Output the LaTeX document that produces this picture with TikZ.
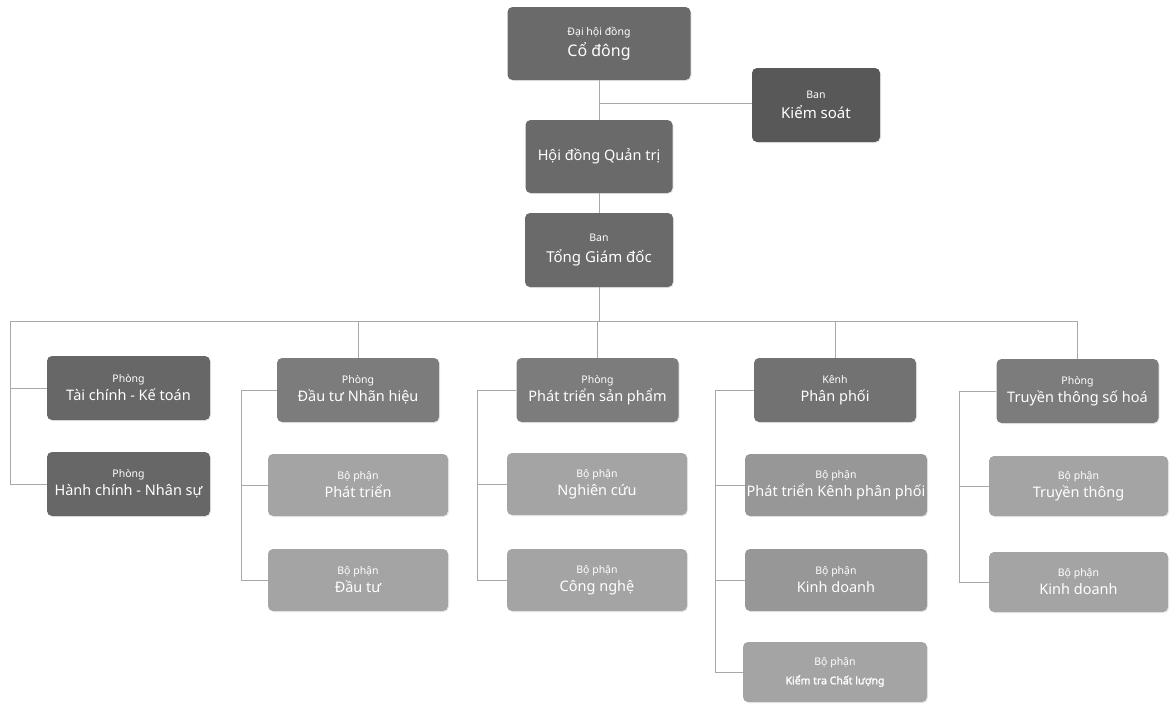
\documentclass[tikz,border=0pt]{standalone}
\usepackage{fontspec}
\setmainfont{Noto Sans}
\newfontfamily\boldf{Noto Sans}[FakeBold=1.6]
\usetikzlibrary{shadows}
\definecolor{topgray}{HTML}{6A6A6A}
\definecolor{ksgray}{HTML}{585858}
\definecolor{darkgray}{HTML}{676767}
\definecolor{midgray}{HTML}{7C7C7C}
\definecolor{subgray}{HTML}{A4A4A4}
\definecolor{linegray}{HTML}{A8A8A8}
\newcommand\smalltxt{\fontsize{10.5}{12}\selectfont}
\newcommand\bigtxt{\fontsize{14.5}{17}\selectfont}
\begin{document}
\begin{tikzpicture}[x=1pt,y=-1pt,
  box/.style={rounded corners=5pt, text=white, align=center, inner sep=0pt,
    font=\bigtxt, drop shadow={opacity=0.18, shadow xshift=1pt, shadow yshift=-1pt}},
  topbox/.style={box, fill=topgray, minimum width=147pt, minimum height=73pt},
  deptdark/.style={box, fill=darkgray, minimum width=163pt, minimum height=64pt},
  deptmid/.style={box, fill=midgray, minimum width=162pt, minimum height=64pt},
  subbox/.style={box, fill=subgray, minimum width=180pt, minimum height=62pt},
  conn/.style={draw=linegray, line width=0.9pt}
]
\useasboundingbox (0,0) rectangle (1175,704);

% connectors of the top (drawn first, below the boxes)
\coordinate (busL) at (10,321);
\coordinate (ksj) at (599,103);
\coordinate (c2) at (241,0);
\coordinate (c3) at (477,0);
\coordinate (c4) at (715,0);
\coordinate (c5) at (959,0);

% top hierarchy
\node[topbox, minimum width=183pt] (dhdc) at (599,43.5) {{\smalltxt Đại hội đồng}\\[4pt]{\fontsize{16}{18}\selectfont Cổ đông}};
\node[box, fill=ksgray, minimum width=128pt, minimum height=74pt] (ks) at (816,105) {{\smalltxt Ban}\\[3pt]{\fontsize{15}{17}\selectfont Kiểm soát}};
\node[topbox] (hdqt) at (599,156.5) {{\fontsize{14.5}{17}\selectfont Hội đồng Quản trị}};
\node[topbox, minimum width=148pt, minimum height=74pt] (tgd) at (599,250) {{\smalltxt Ban}\\[4pt]{\fontsize{15}{17}\selectfont Tổng Giám đốc}};

% departments
\node[deptdark] (tc) at (128.5,388) {{\smalltxt Phòng}\\[1pt]Tài chính - Kế toán};
\node[deptdark] (hc) at (128.5,484) {{\smalltxt Phòng}\\[1pt]Hành chính - Nhân sự};
\node[deptmid] (dtnh) at (358,390) {{\smalltxt Phòng}\\[1pt]Đầu tư Nhãn hiệu};
\node[deptmid] (ptsp) at (597.5,390) {{\smalltxt Phòng}\\[1pt]Phát triển sản phẩm};
\node[deptmid, fill=midgray!92!black] (kpp) at (835,390) {{\smalltxt Kênh}\\[1pt]Phân phối};
\node[deptmid] (ttsh) at (1077.5,391) {{\smalltxt Phòng}\\[1pt]Truyền thông số hoá};

% sub units
\node[subbox] (bppt) at (358,485) {{\smalltxt Bộ phận}\\[1pt]Phát triển};
\node[subbox] (bpdt) at (358,580) {{\smalltxt Bộ phận}\\[1pt]Đầu tư};
\node[subbox] (bpnc) at (597,484) {{\smalltxt Bộ phận}\\[1pt]Nghiên cứu};
\node[subbox] (bpcn) at (597,580) {{\smalltxt Bộ phận}\\[1pt]Công nghệ};
\node[subbox, minimum width=182pt, fill=subgray!92!black] (bpptk) at (836,485) {{\smalltxt Bộ phận}\\[1pt]Phát triển Kênh phân phối};
\node[subbox, minimum width=182pt, fill=subgray!92!black] (bpkd) at (836,580) {{\smalltxt Bộ phận}\\[1pt]Kinh doanh};
\node[subbox, minimum width=184pt, minimum height=60pt] (bpkt) at (835,672) {{\smalltxt Bộ phận}\\[2pt]{\boldf\fontsize{10.5}{12}\selectfont Kiểm tra Chất lượng}};
\node[subbox, minimum width=179pt, minimum height=60pt] (bptt) at (1078.5,486) {{\smalltxt Bộ phận}\\[1pt]Truyền thông};
\node[subbox, minimum width=179pt, minimum height=60pt] (bpkd2) at (1078.5,582) {{\smalltxt Bộ phận}\\[1pt]Kinh doanh};

% top connectors
\draw[conn] (dhdc.south) -- (hdqt.north);
\draw[conn] (ks.west |- ksj) -- (ksj);
\draw[conn] (hdqt.south) -- (tgd.north);
\draw[conn] (tgd.south) -- (tgd.south |- busL);

% bus
\draw[conn] (busL) -- (ttsh.north |- busL) -- (ttsh.north);
\draw[conn] (dtnh.north |- busL) -- (dtnh.north);
\draw[conn] (ptsp.north |- busL) -- (ptsp.north);
\draw[conn] (kpp.north |- busL) -- (kpp.north);

% column 1
\draw[conn] (busL) -- (busL |- hc.west) -- (hc.west);
\draw[conn] (tc.west) -- (tc.west -| busL);

% column 2
\draw[conn] (dtnh.west) -- (dtnh.west -| c2) -- (bpdt.west -| c2) -- (bpdt.west);
\draw[conn] (bppt.west -| c2) -- (bppt.west);
% column 3
\draw[conn] (ptsp.west) -- (ptsp.west -| c3) -- (bpcn.west -| c3) -- (bpcn.west);
\draw[conn] (bpnc.west -| c3) -- (bpnc.west);
% column 4
\draw[conn] (kpp.west) -- (kpp.west -| c4) -- (bpkt.west -| c4) -- (bpkt.west);
\draw[conn] (bpptk.west -| c4) -- (bpptk.west);
\draw[conn] (bpkd.west -| c4) -- (bpkd.west);
% column 5
\draw[conn] (ttsh.west) -- (ttsh.west -| c5) -- (bpkd2.west -| c5) -- (bpkd2.west);
\draw[conn] (bptt.west -| c5) -- (bptt.west);
\end{tikzpicture}
\end{document}
